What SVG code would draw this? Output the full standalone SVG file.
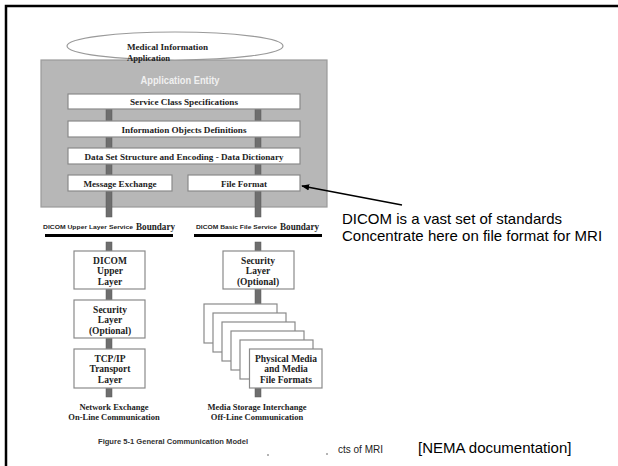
<svg xmlns="http://www.w3.org/2000/svg" width="618" height="466" viewBox="0 0 618 466">
<style>
.box{fill:#ffffff;stroke:#8a8a8a;stroke-width:1.2}
.bar{fill:#6e6e6e;stroke:#5a5a5a;stroke-width:0.5}
.t{font-family:"Liberation Serif","Times New Roman",serif;font-weight:bold;fill:#222;text-anchor:middle}
.ts{font-family:"Liberation Serif","Times New Roman",serif;font-weight:bold;fill:#222;text-anchor:start}
.s{font-family:"Liberation Sans",Arial,sans-serif}
.bl{stroke:#000;stroke-width:3.2}
</style>
<defs>
<marker id="ah" viewBox="0 0 10 10" refX="9" refY="5" markerWidth="8" markerHeight="8" orient="auto" markerUnits="userSpaceOnUse">
<path d="M0,1 L10,5 L0,9 z" fill="#000"/>
</marker>
</defs>
<rect width="618" height="466" fill="#fff"/>
<path d="M6,466 V6 H618" fill="none" stroke="#000" stroke-width="2.5"/>

<g id="application-entity">
<rect x="41" y="60" width="286" height="147" fill="#b7b7b7" stroke="#9a9a9a" stroke-width="1.2"/>
<text x="180" y="84" class="s" font-size="10" font-weight="bold" fill="#f0f0f0" text-anchor="middle" textLength="79" lengthAdjust="spacingAndGlyphs">Application Entity</text>
</g>

<g id="connectors">
<rect class="bar" x="106" y="109" width="6" height="108"/>
<rect class="bar" x="255" y="109" width="6" height="108"/>
<rect class="bar" x="106" y="242" width="6" height="155"/>
<rect class="bar" x="255" y="242" width="6" height="155"/>
<line class="bl" x1="45" y1="235.5" x2="173" y2="235.5"/>
<line class="bl" x1="194" y1="235.5" x2="322" y2="235.5"/>
<line x1="402" y1="205" x2="302" y2="186" stroke="#000" stroke-width="1.6" marker-end="url(#ah)"/>
</g>

<g id="medical-information-application">
<ellipse cx="175" cy="46" rx="108" ry="14" fill="#fff" stroke="#9a9a9a" stroke-width="1.2"/>
<text x="127" y="50" class="ts" font-size="9" textLength="81" lengthAdjust="spacingAndGlyphs">Medical Information</text>
<text x="127" y="61" class="ts" font-size="9" textLength="43" lengthAdjust="spacingAndGlyphs">Application</text>
</g>

<g id="service-class">
<rect class="box" x="68" y="94" width="232" height="15"/>
<text x="184" y="105" class="t" font-size="9" textLength="108" lengthAdjust="spacingAndGlyphs">Service Class Specifications</text>
</g>
<g id="information-objects">
<rect class="box" x="68" y="121" width="232" height="16"/>
<text x="184" y="132.5" class="t" font-size="9" textLength="125" lengthAdjust="spacingAndGlyphs">Information Objects Definitions</text>
</g>
<g id="data-set">
<rect class="box" x="68" y="148" width="232" height="16"/>
<text x="184" y="159.5" class="t" font-size="9" textLength="199" lengthAdjust="spacingAndGlyphs">Data Set Structure and Encoding - Data Dictionary</text>
</g>
<g id="message-exchange">
<rect class="box" x="68" y="175" width="104" height="16"/>
<text x="120" y="186.5" class="t" font-size="9" textLength="73" lengthAdjust="spacingAndGlyphs">Message Exchange</text>
</g>
<g id="file-format">
<rect class="box" x="188" y="175" width="112" height="16"/>
<text x="244" y="186.5" class="t" font-size="9" textLength="46" lengthAdjust="spacingAndGlyphs">File Format</text>
</g>

<g id="upper-boundary">
<text x="43" y="229" class="s" font-size="5.5" font-weight="bold" fill="#222" textLength="90" lengthAdjust="spacingAndGlyphs">DICOM Upper Layer Service</text>
<text x="136" y="230" class="ts" font-size="9.5" textLength="39" lengthAdjust="spacingAndGlyphs">Boundary</text>
</g>
<g id="file-boundary">
<text x="196" y="229" class="s" font-size="5.5" font-weight="bold" fill="#222" textLength="81" lengthAdjust="spacingAndGlyphs">DICOM Basic File Service</text>
<text x="280" y="230" class="ts" font-size="9.5" textLength="39" lengthAdjust="spacingAndGlyphs">Boundary</text>
</g>

<g id="dicom-upper-layer">
<rect class="box" x="74" y="251" width="71" height="38"/>
<text class="t" font-size="9.5"><tspan x="110" y="263.5">DICOM</tspan><tspan x="110" y="274">Upper</tspan><tspan x="110" y="284.5">Layer</tspan></text>
</g>
<g id="security-layer-left">
<rect class="box" x="74" y="300" width="71" height="38"/>
<text class="t" font-size="9.5"><tspan x="110" y="312.5">Security</tspan><tspan x="110" y="323">Layer</tspan><tspan x="110" y="333.5">(Optional)</tspan></text>
</g>
<g id="tcp-ip">
<rect class="box" x="74" y="349" width="71" height="39"/>
<text class="t" font-size="9.5"><tspan x="110" y="361.5">TCP/IP</tspan><tspan x="110" y="372">Transport</tspan><tspan x="110" y="382.5">Layer</tspan></text>
</g>
<g id="network-exchange">
<text class="t" font-size="8.5"><tspan x="114" y="410">Network Exchange</tspan><tspan x="114" y="419.5">On-Line Communication</tspan></text>
</g>

<g id="security-layer-right">
<rect class="box" x="223" y="251" width="71" height="38"/>
<text class="t" font-size="9.5"><tspan x="258" y="263.5">Security</tspan><tspan x="258" y="274">Layer</tspan><tspan x="258" y="284.5">(Optional)</tspan></text>
</g>
<g id="physical-media">
<rect class="box" x="204" y="304" width="73" height="39"/>
<rect class="box" x="213" y="313" width="73" height="39"/>
<rect class="box" x="222" y="322" width="73" height="39"/>
<rect class="box" x="231" y="331" width="73" height="39"/>
<rect class="box" x="240" y="340" width="73" height="39"/>
<rect class="box" x="249.5" y="349" width="72.5" height="39"/>
<text class="t" font-size="9.5"><tspan x="286" y="361.5">Physical Media</tspan><tspan x="286" y="372">and Media</tspan><tspan x="286" y="382.5">File Formats</tspan></text>
</g>
<g id="media-storage">
<text class="t" font-size="8.5"><tspan x="257" y="410">Media Storage Interchange</tspan><tspan x="257" y="419.5">Off-Line Communication</tspan></text>
</g>

<g id="caption">
<text x="98" y="444" class="s" font-size="7" font-weight="bold" fill="#333" textLength="150" lengthAdjust="spacingAndGlyphs">Figure 5-1 General Communication Model</text>
<circle cx="268" cy="455" r="0.8" fill="#555"/>
<circle cx="327" cy="454" r="0.8" fill="#555"/>
<text x="338" y="453" class="s" font-size="10" fill="#222">cts of MRI</text>
</g>

<g id="note">
<text class="s" font-size="15" fill="#000"><tspan x="342" y="224">DICOM is a vast set of standards</tspan><tspan x="342" y="241">Concentrate here on file format for MRI</tspan></text>
<text x="418" y="453" class="s" font-size="15" fill="#000">[NEMA documentation]</text>
</g>
</svg>
